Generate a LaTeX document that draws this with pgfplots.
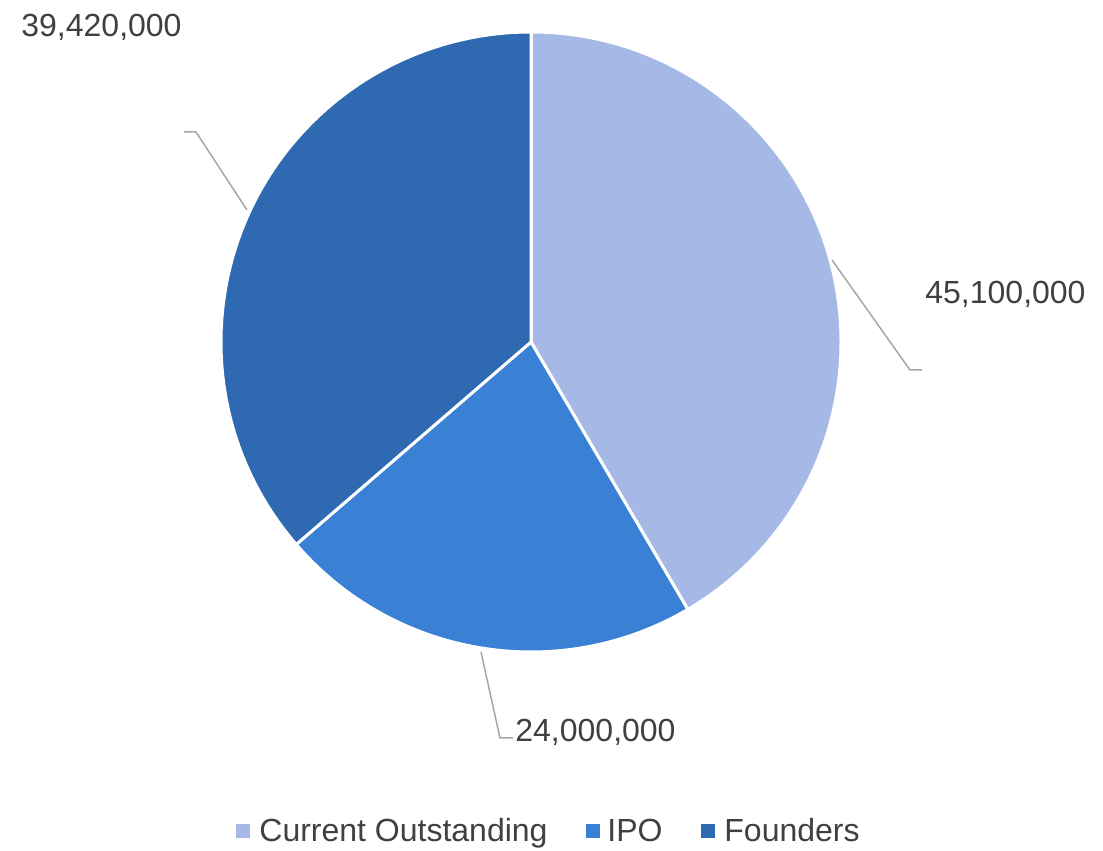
\documentclass[border=0pt]{standalone}
\usepackage{pgfplots}
\pgfplotsset{compat=1.18}
\usepackage{fontspec}
\setmainfont{Liberation Sans}
\definecolor{cCur}{HTML}{A6B9E6}
\definecolor{cIPO}{HTML}{3A81D6}
\definecolor{cFou}{HTML}{2E69B1}
\definecolor{txt}{HTML}{404040}
\definecolor{lead}{HTML}{A6A6A6}
% values in millions of shares
\def\vCur{45.10}
\def\vIPO{24.00}
\def\vFou{39.42}
\pgfmathsetmacro{\tot}{\vCur+\vIPO+\vFou}
\pgfmathsetmacro{\aA}{90}
\pgfmathsetmacro{\aB}{90-360*\vCur/\tot}
\pgfmathsetmacro{\aC}{\aB-360*\vIPO/\tot}
\pgfmathsetmacro{\aD}{\aC-360*\vFou/\tot}
\begin{document}
\begin{tikzpicture}
\begin{axis}[x=0.5pt,y=0.5pt,xmin=0,xmax=1103,ymin=0,ymax=851,
  hide axis, clip=false, scale only axis]
\path (axis cs:0,0) rectangle (axis cs:1103,851);
% slices
\filldraw[fill=cCur,draw=white,line width=1.5pt,line join=round]
  (axis cs:531,509) -- ++(\aA:155pt) arc[start angle=\aA,end angle=\aB,radius=155pt] -- cycle;
\filldraw[fill=cIPO,draw=white,line width=1.5pt,line join=round]
  (axis cs:531,509) -- ++(\aB:155pt) arc[start angle=\aB,end angle=\aC,radius=155pt] -- cycle;
\filldraw[fill=cFou,draw=white,line width=1.5pt,line join=round]
  (axis cs:531,509) -- ++(\aC:155pt) arc[start angle=\aC,end angle=\aD,radius=155pt] -- cycle;
% leader lines
\draw[lead,line width=0.75pt] (axis cs:247,641) -- (axis cs:196,719) -- (axis cs:184,719);
\draw[lead,line width=0.75pt] (axis cs:832,591) -- (axis cs:910,481) -- (axis cs:922,481);
\draw[lead,line width=0.75pt] (axis cs:481,199) -- (axis cs:500,113) -- (axis cs:513,113);
% data labels
\begin{scope}[every node/.style={inner sep=0pt,text=txt,font=\fontsize{16}{19}\selectfont}]
\node[anchor=base west] at (axis cs:21,814) {39,420,000};
\node[anchor=base west] at (axis cs:925,547) {45,100,000};
\node[anchor=base west] at (axis cs:515,109) {24,000,000};
% legend
\fill[cCur] (axis cs:236,13) rectangle (axis cs:250,27);
\node[anchor=base west] at (axis cs:259,9) {Current Outstanding};
\fill[cIPO] (axis cs:586,13) rectangle (axis cs:600,27);
\node[anchor=base west] at (axis cs:607,9) {IPO};
\fill[cFou] (axis cs:701,13) rectangle (axis cs:715,27);
\node[anchor=base west] at (axis cs:724,9) {Founders};
\end{scope}
\end{axis}
\end{tikzpicture}
\end{document}
